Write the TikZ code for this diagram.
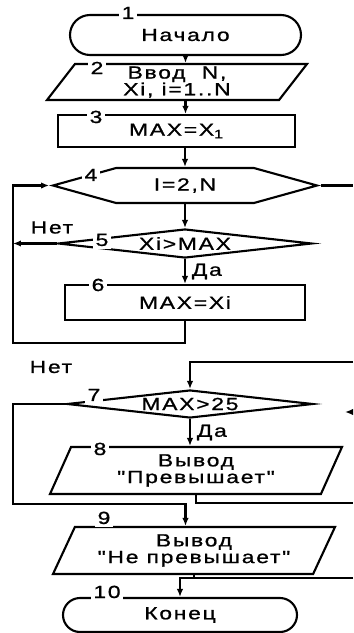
\documentclass[tikz,border=0pt]{standalone}
\usepackage{fontspec}
\newfontfamily\flowfont{Liberation Sans}[FakeStretch=1.3,LetterSpace=10,FakeBold=1]
\usetikzlibrary{positioning,arrows.meta,shapes.geometric,shapes.misc,shapes.symbols}
\tikzset{
    termbox/.style={
        draw, rounded rectangle, line width=1.2pt, inner sep=0pt
    },
    iobox/.style={
        draw, trapezium, trapezium stretches body, line width=1.2pt,
        inner xsep=2pt, inner ysep=0pt, align=center
    },
    procbox/.style={
        draw, rectangle, line width=1.2pt, inner sep=0pt
    },
    loopbox/.style={
        draw, signal, signal to=west and east, signal pointer angle=31,
        line width=1.2pt, inner sep=0pt,
        minimum width=5.28cm, minimum height=0.7cm
    },
    decision/.style={
        draw, diamond, aspect=8, line width=1.2pt, inner xsep=0pt, inner ysep=-2pt
    },
    numlab/.style={fill=white, inner sep=1.5pt},
    arrow/.style={-{Latex[length=1.6mm,width=1.3mm]}, line width=1.2pt},
    line/.style={line width=1.2pt},
}
\begin{document}
\begin{tikzpicture}[
        every node/.style={font=\flowfont\fontsize{10pt}{9.5pt}\selectfont, align=center},
    ]
    \useasboundingbox (0,0) rectangle (7.06,-12.66);
    \coordinate (rail) at (0.26,0);
    \coordinate (exitA) at (7.06,-7.24);
    \coordinate (exitB) at (7.06,-10.06);
    \coordinate (exitC) at (7.06,-11.56);
    \coordinate (exitD) at (7.06,-8.24);
    % blocks
    \node[termbox, minimum width=4.62cm, minimum height=0.8cm] (start) at (3.71,-0.70) {Начало};
    \node[iobox, trapezium left angle=48, trapezium right angle=132,
        minimum width=5.2cm, minimum height=0.72cm] (input) at (3.54,-1.64) {Ввод\ \ N,\\Xi, i=1..N};
    \node[procbox, minimum width=4.74cm, minimum height=0.64cm] (max1) at (3.53,-2.62) {MAX=X\textsubscript{1}};
    \node[loopbox] (loop) at (3.70,-3.71) {I=2,N};
    \node[decision, minimum width=5.08cm, minimum height=0.58cm] (test) at (3.70,-4.87) {Xi>MAX};
    \node[procbox, minimum width=4.8cm, minimum height=0.7cm] (max2) at (3.70,-6.05) {MAX=Xi};
    \node[decision, minimum width=4.92cm, minimum height=0.56cm] (check) at (3.80,-8.08) {MAX>25};
    \node[iobox, trapezium left angle=57, trapezium right angle=123,
        minimum width=5.84cm, minimum height=0.94cm] (over) at (3.92,-9.41) {Вывод\\"Превышает"};
    \node[iobox, trapezium left angle=56, trapezium right angle=124,
        minimum width=5.64cm, minimum height=0.94cm] (notover) at (3.88,-11.01) {Вывод\\"Не превышает"};
    \node[termbox, minimum width=4.68cm, minimum height=0.68cm] (end) at (3.60,-12.30) {Конец};
    % connectors
    \draw[arrow] (start.south) -- (start.south |- input.north);
    \draw[arrow] (input.south -| start.south) -- (max1.north -| start.south);
    \draw[arrow] (max1.south -| loop.north) -- (loop.north);
    \draw[arrow] (loop.south) -- (test.north);
    \draw[arrow] (test.south) -- node[right] {Да} (max2.north);
    \draw[arrow] (max2.south) -- ++(0,-0.44) -| (rail |- loop.west) -- (loop.west);
    \draw[arrow] (test.west) -- (test.west -| rail);
    \draw[line] (loop.east) -- (loop.east -| exitA);
    \draw[arrow] (exitA) -| (check.north);
    \draw[arrow] (exitD) -- ++(-0.16,0);
    \draw[arrow] (check.south) -- node[right] {Да} (check.south |- over.north);
    \draw[arrow] (check.west) -- (check.west -| rail)
        |- ([yshift=0.44cm]notover.north -| start.south) -- (notover.north -| start.south);
    \draw[line] (over.south) |- (exitB);
    \draw[line] (notover.south) -- (notover.south |- exitC);
    \draw[arrow] (exitC) -| (end.north);
    % numbers
    \node[numlab] (n1) at ([shift={(-1.15,0.02)}]start.north) {1};
    \node[numlab] (n2) at ([shift={(-1.60,-0.10)}]input.north) {2};
    \node[numlab] (n3) at ([shift={(-1.61,-0.06)}]max1.north) {3};
    \node[numlab] (n4) at ([shift={(-1.88,-0.16)}]loop.north) {4};
    \node[numlab] (n5) at ([shift={(-1.66,-0.24)}]test.north) {5};
    \node[numlab] (n6) at ([shift={(-1.74,-0.02)}]max2.north) {6};
    \node[numlab] (n7) at ([shift={(-1.92,-0.12)}]check.north) {7};
    \node[numlab] (n8) at ([shift={(-1.92,-0.06)}]over.north) {8};
    \node[numlab] (n9) at ([shift={(-1.80,0.16)}]notover.north) {9};
    \node[numlab] (n10) at ([shift={(-1.46,0.10)}]end.north) {10};
    \node (no5) at ([shift={(-0.10,0.32)}]test.west) {Нет};
    \node (no7) at ([shift={(-0.30,0.74)}]check.west) {Нет};
\end{tikzpicture}
\end{document}
